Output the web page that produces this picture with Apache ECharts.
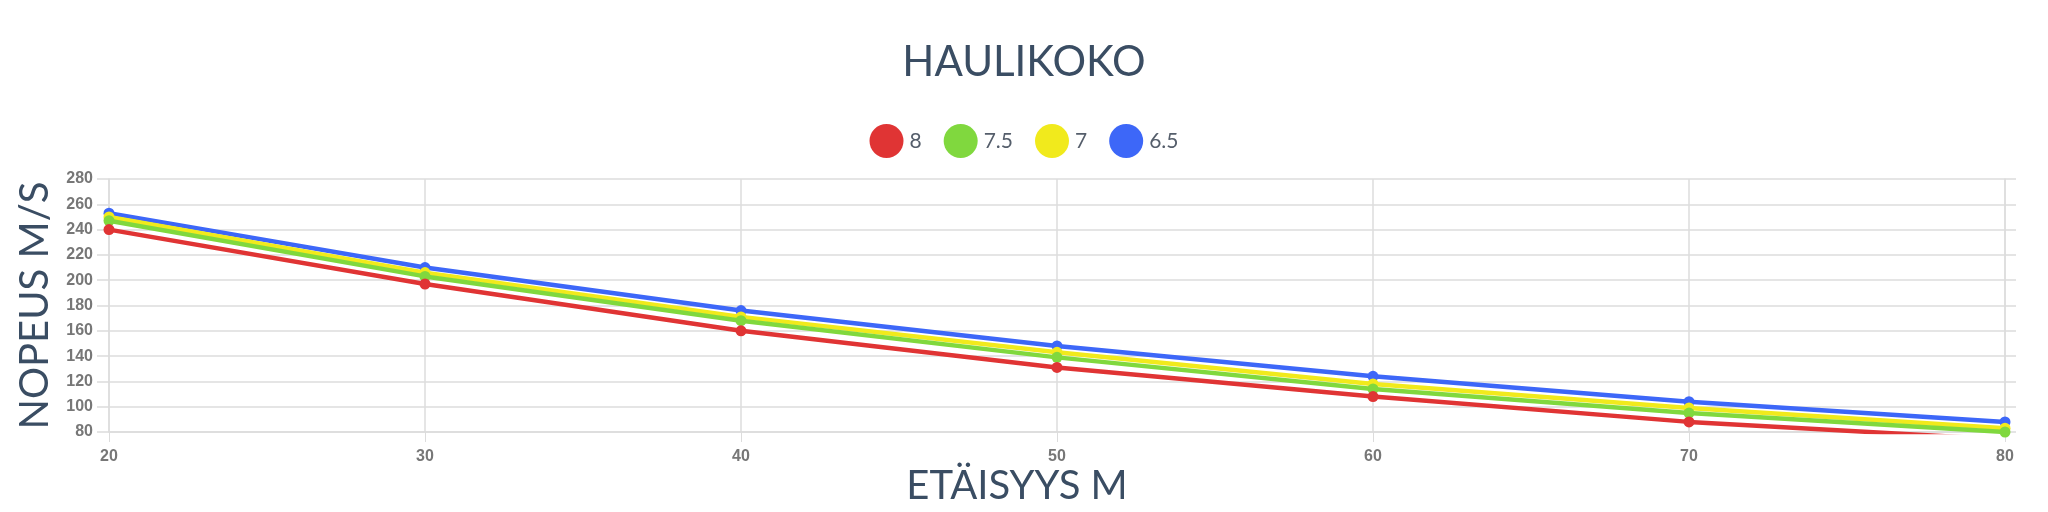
<!DOCTYPE html>
<html>
<head>
<meta charset="utf-8">
<script src="https://cdn.jsdelivr.net/npm/echarts@6/dist/echarts.min.js"></script>
<style>html,body{margin:0;padding:0;background:#fff;}#c{width:2048px;height:512px;}</style>
</head>
<body>
<div id="c"></div>
<script>
const distances = [20, 30, 40, 50, 60, 70, 80];
const seriesNames = ['8', '7.5', '7', '6.5'];
const shot8 = [240, 197, 160, 131, 108, 88, 74];
const shot75 = [247, 203, 168, 139, 114, 95, 80];
const shot7 = [250, 206, 171, 143, 118, 99, 83];
const shot65 = [253, 210, 176, 148, 124, 104, 88];
const colors = ['#e03434', '#80d83e', '#f1ea1c', '#3d67f8'];
const titleText = 'HAULIKOKO';
const xName = 'ETÄISYYS M';
const yName = 'NOPEUS M/S';

const allData = [shot8, shot75, shot7, shot65];
const gridColor = '#dcdcdc';
const chart = echarts.init(document.getElementById('c'), null, {renderer: 'canvas'});
const series = allData.map((vals, i) => ({
  name: seriesNames[i],
  type: 'line',
  data: vals.map((v, j) => [distances[j], v]),
  symbol: 'circle',
  symbolSize: 11,
  clip: true,
  z: 10 - i,
  lineStyle: {width: 4.5, color: colors[i]},
  itemStyle: {color: colors[i]}
}));
chart.setOption({
  animation: false,
  backgroundColor: '#fff',
  title: {
    text: titleText, left: 'center', top: 36,
    textStyle: {fontFamily: 'Lato', fontSize: 42, fontWeight: 'normal', color: '#3a4d63'}
  },
  legend: {
    top: 119, left: 'center',
    icon: 'circle', itemWidth: 34, itemHeight: 34, itemGap: 22,
    data: seriesNames,
    textStyle: {fontFamily: 'Lato', fontSize: 21, color: '#555e6b', padding: [0, 0, 0, 1]}
  },
  grid: {left: 109, right: 43, top: 179, bottom: 80, containLabel: false},
  xAxis: {
    type: 'value', min: 20, max: 80, interval: 10,
    name: xName, nameLocation: 'middle', nameGap: 31,
    nameTextStyle: {fontFamily: 'Lato', fontSize: 40, color: '#3a4d63', padding: [0, 80, 0, 0]},
    axisLine: {show: true, lineStyle: {color: gridColor, width: 1.5}},
    axisTick: {show: true, length: 10, lineStyle: {color: gridColor}},
    axisLabel: {fontFamily: 'Liberation Sans', fontSize: 16, fontWeight: 'bold', color: '#777', margin: 17},
    splitLine: {show: true, lineStyle: {color: gridColor, width: 1.5}}
  },
  yAxis: [{
    type: 'value', min: 80, max: 280, interval: 20,
    name: yName, nameLocation: 'middle', nameGap: 52,
    nameTextStyle: {fontFamily: 'Lato', fontSize: 40, color: '#3a4d63'},
    axisLine: {show: true, lineStyle: {color: gridColor, width: 1.5}},
    axisTick: {show: true, length: 12, lineStyle: {color: gridColor, width: 1.5}},
    axisLabel: {fontFamily: 'Liberation Sans', fontSize: 16, fontWeight: 'bold', color: '#777', margin: 16},
    splitLine: {show: true, lineStyle: {color: gridColor, width: 1.5}}
  }, {
    type: 'value', min: 80, max: 280, interval: 20, position: 'right',
    axisLine: {show: true, lineStyle: {color: gridColor, width: 1.5}},
    axisTick: {show: true, length: 11, lineStyle: {color: gridColor, width: 1.5}},
    axisLabel: {show: false},
    splitLine: {show: false}
  }],
  series: series
});
</script>
</body>
</html>
